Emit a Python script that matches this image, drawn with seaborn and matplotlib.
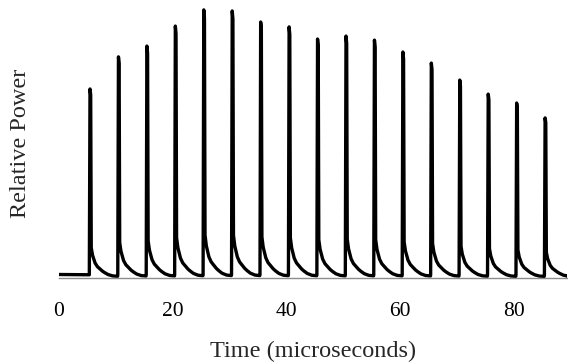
import numpy as np
import pandas as pd
import matplotlib
matplotlib.use("Agg")
import matplotlib.pyplot as plt
import seaborn as sns

# pulse train (time in microseconds, power relative to axis height)
peak_times = [5.45, 10.45, 15.45, 20.45, 25.45, 30.45, 35.45, 40.45, 45.45,
              50.45, 55.45, 60.45, 65.45, 70.45, 75.45, 80.45, 85.45]
peak_heights = [0.700, 0.819, 0.859, 0.933, 0.993, 0.989, 0.948, 0.930, 0.885,
                0.896, 0.881, 0.837, 0.796, 0.733, 0.681, 0.648, 0.593]

# shape of one pulse and its decay tail (offset from peak, fraction of peak)
shape_offsets = [-0.12, 0.0, 0.12, 0.22, 0.45, 0.9, 1.3, 1.75, 2.2, 2.6, 3.2, 4.0, 4.85]
shape_values = [0.012, 1.0, 0.97, 0.16, 0.12, 0.079, 0.06, 0.048, 0.036, 0.028, 0.018, 0.011, 0.009]

start_time = 0.0
start_level = 0.013
end_time = 89.3
end_level = 0.009

times = [start_time]
power = [start_level]
for t0, h in zip(peak_times, peak_heights):
    for dt, v in zip(shape_offsets, shape_values):
        times.append(t0 + dt)
        power.append(v if dt < 0 else h * v)
times.append(end_time)
power.append(end_level)

df = pd.DataFrame({"time": times, "power": power})

sns.set_style("white")
plt.rcParams["font.family"] = ["Liberation Serif", "DejaVu Serif"]

fig = plt.figure(figsize=(5.68, 3.64), dpi=100)
ax = fig.add_axes([59 / 568, 1 - 278 / 364, 508 / 568, 270 / 364])

sns.lineplot(data=df, x="time", y="power", ax=ax, color="black",
             linewidth=2.4, sort=False, estimator=None)

ax.set_xlim(0, 89.3)
ax.set_ylim(0, 1.0)
ax.set_xticks([0, 20, 40, 60, 80])
ax.set_yticks([])

for s in ["top", "right", "left"]:
    ax.spines[s].set_visible(False)
ax.spines["bottom"].set_color("#8c8c8c")
ax.spines["bottom"].set_linewidth(1.0)
ax.tick_params(axis="x", direction="out", length=4.8, width=1.0, color="#8c8c8c",
               labelsize=15.5, pad=12.5, labelcolor="black")

ax.set_xlabel("Time (microseconds)", fontsize=17.5, va="center")
ax.set_ylabel("Relative Power", fontsize=17.5, va="center")
ax.xaxis.set_label_coords(0.5, (278 - 351) / 270)
ax.yaxis.set_label_coords((21 - 59) / 508, 0.5)

fig.savefig("out.png", dpi=100)
